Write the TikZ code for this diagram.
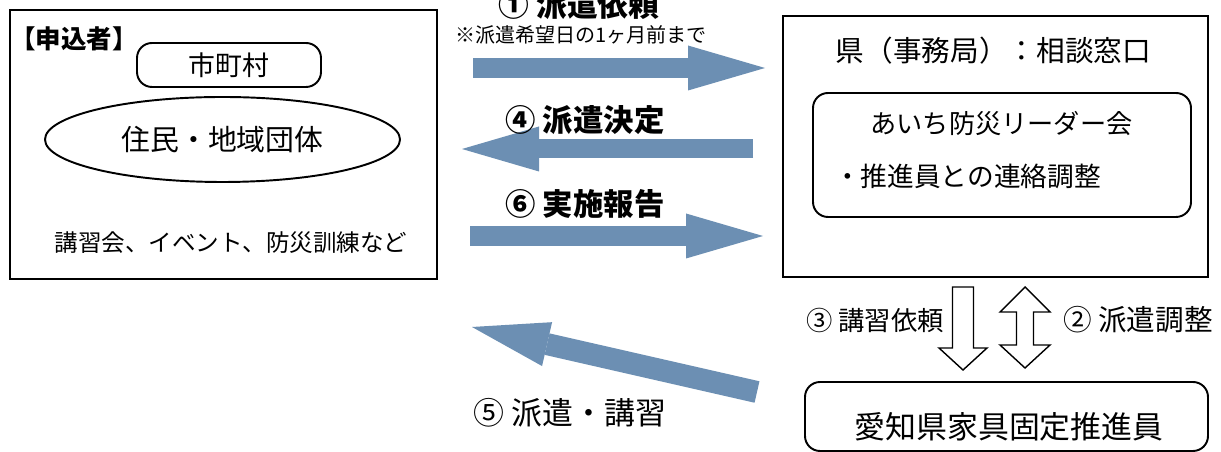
\documentclass[tikz,border=0pt]{standalone}
\usepackage{fontspec}
\setmainfont{Noto Sans CJK JP}
\usepackage{tikz}
\usetikzlibrary{arrows.meta,shapes.geometric}
\definecolor{arrowblue}{RGB}{108,143,179}
\newcommand{\fsz}[1]{\fontsize{#1}{#1}\selectfont}
\tikzset{
  boxline/.style={draw,line width=1.1pt},
  roundbox/.style={boxline,rounded corners=0.3cm},
  flow/.style={arrowblue,line width=#1,-{Triangle[length=1.54cm,width=0.9cm,line width=0pt]}},
  hollow/.style={draw,fill=white,line width=0.8pt,line join=miter}
}

\begin{document}
\begin{tikzpicture}
  \useasboundingbox[fill=white] (0,0) rectangle (24.42,9.04);

  % Applicant box
  \node[boxline,minimum width=8.54cm,minimum height=5.38cm] (applicant) at (4.47,6.15) {};
  \node[font=\bfseries\fsz{14.5}] (applabel) at (1.48,8.26) {【申込者】};
  \node[roundbox,minimum width=3.68cm,minimum height=0.88cm,font=\fsz{15.3}] (city) at (4.58,7.74) {市町村};
  \node[boxline,ellipse,minimum width=7.1cm,minimum height=1.7cm,font=\fsz{16.4}] (residents) at (4.45,6.25) {住民・地域団体};
  \node[font=\fsz{13.4}] (events) at (4.62,4.18) {講習会、イベント、防災訓練など};

  % Prefecture office box
  \node[boxline,minimum width=8.5cm,minimum height=5.22cm] (office) at (19.91,6.11) {};
  \node[font=\fsz{16.3}] (officename) at (19.87,8.03) {県（事務局）：相談窓口};
  \node[roundbox,minimum width=7.56cm,minimum height=2.48cm] (leaders) at (20.04,5.94) {};
  \node[font=\fsz{14.9}] (leadername) at (20.03,6.57) {あいち防災リーダー会};
  \node[font=\fsz{15.2}] (leadertask) at (19.35,5.51) {・推進員との連絡調整};

  % Promoter box
  \node[roundbox,minimum width=8.06cm,minimum height=1.38cm] (promoter) at (20.13,0.71) {};
  \node[font=\fsz{17.6}] (promotername) at (20.18,0.5) {愛知県家具固定推進員};

  % Flow arrows between applicant and office
  \coordinate (reqfrom) at (9.46,7.68);
  \coordinate (reqto) at (15.3,7.68);
  \draw[flow=0.4cm] (reqfrom) -- (reqto);
  \node[font=\bfseries\fsz{17.5}] (reqlabel) at (11.58,8.94) {① 派遣依頼};
  \node[font=\fsz{11.4}] (reqnote) at (11.62,8.34) {※派遣希望日の1ヶ月前まで};

  \coordinate (decfrom) at (15.06,6.06);
  \coordinate (decto) at (9.24,6.06);
  \draw[flow=0.38cm] (decfrom) -- (decto);
  \node[font=\bfseries\fsz{17.3}] (declabel) at (11.7,6.63) {④ 派遣決定};

  \coordinate (repfrom) at (9.4,4.32);
  \coordinate (repto) at (15.26,4.32);
  \draw[flow=0.4cm] (repfrom) -- (repto);
  \node[font=\bfseries\fsz{17.3}] (replabel) at (11.7,4.96) {⑥ 実施報告};

  % Dispatch arrow from promoter
  \coordinate (dispfrom) at (15.14,1.2);
  \coordinate (dispto) at (9.44,2.5);
  \draw[flow=0.44cm] (dispfrom) -- (dispto);
  \node[font=\fsz{17.6}] (displabel) at (11.4,0.78) {⑤ 派遣・講習};

  % Hollow arrows between office and promoter
  \coordinate (lecturetop) at (19.26,3.3);
  \draw[hollow] (lecturetop) ++(-0.21,0) -- ++(0,-1.22) -- ++(-0.27,0) -- ++(0.48,-0.44)
    -- ++(0.48,0.44) -- ++(-0.27,0) -- ++(0,1.22) -- cycle;
  \node[font=\fsz{15}] (leclabel) at (17.5,2.64) {③ 講習依頼};

  \coordinate (adjusttop) at (20.5,3.3);
  \draw[hollow] (adjusttop) -- ++(0.5,-0.5) -- ++(-0.33,0) -- ++(0,-0.66) -- ++(0.33,0)
    -- ++(-0.5,-0.46) -- ++(-0.5,0.46) -- ++(0.33,0) -- ++(0,0.66) -- ++(-0.33,0) -- cycle;
  \node[font=\fsz{16.3}] (adjlabel) at (22.76,2.64) {② 派遣調整};
\end{tikzpicture}
\end{document}
